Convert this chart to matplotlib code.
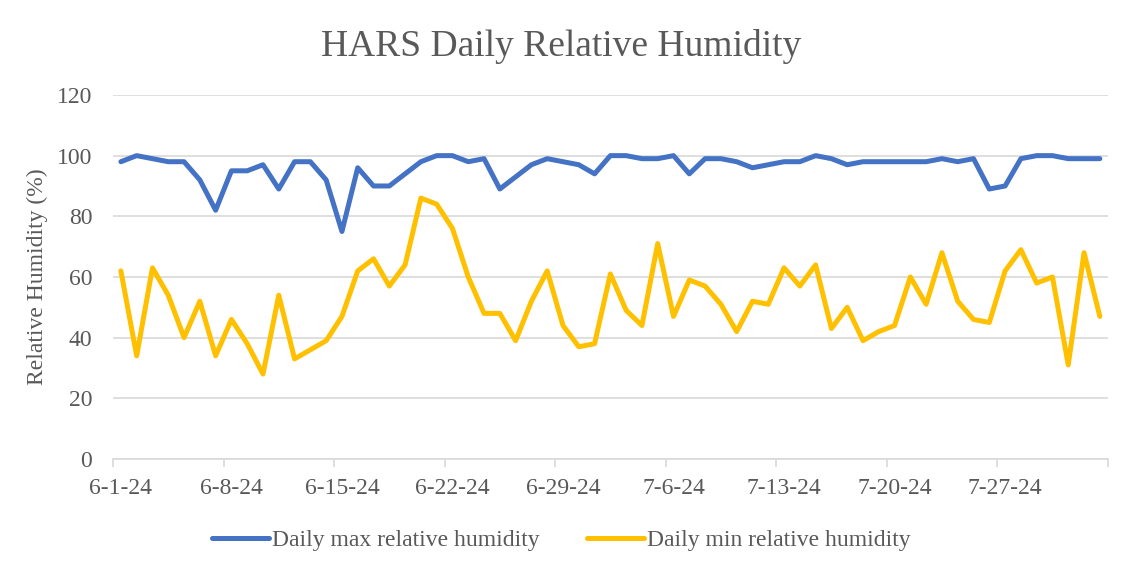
import matplotlib
matplotlib.use("Agg")
from matplotlib import pyplot as plt
from matplotlib.ticker import FixedLocator

# Daily values, 6-1-24 through 8-2-24
max_rh = [98, 100, 99, 98, 98, 92, 82, 95, 95, 97, 89, 98, 98, 92, 75, 96, 90, 90, 94, 98,
          100, 100, 98, 99, 89, 93, 97, 99, 98, 97, 94, 100, 100, 99, 99, 100, 94, 99, 99, 98,
          96, 97, 98, 98, 100, 99, 97, 98, 98, 98, 98, 98, 99, 98, 99, 89, 90, 99, 100, 100,
          99, 99, 99]
min_rh = [62, 34, 63, 54, 40, 52, 34, 46, 38, 28, 54, 33, 36, 39, 47, 62, 66, 57, 64, 86,
          84, 76, 60, 48, 48, 39, 52, 62, 44, 37, 38, 61, 49, 44, 71, 47, 59, 57, 51, 42,
          52, 51, 63, 57, 64, 43, 50, 39, 42, 44, 60, 51, 68, 52, 46, 45, 62, 69, 58, 60,
          31, 68, 47]
tick_labels = ['6-1-24', '6-8-24', '6-15-24', '6-22-24', '6-29-24',
               '7-6-24', '7-13-24', '7-20-24', '7-27-24']
label_step = 7

gray = '#595959'
grid = '#d9d9d9'
serif = ['Liberation Serif', 'DejaVu Serif']

fig = plt.figure(figsize=(11.46, 5.67), dpi=100)
ax = fig.add_axes([0.0986, 0.1905, 0.868, 0.642])

n = len(max_rh)
x = [i + 0.5 for i in range(n)]
ax.plot(x, max_rh, color='#4472C4', lw=3.6, solid_capstyle='round', solid_joinstyle='round',
        label='Daily max relative humidity')
ax.plot(x, min_rh, color='#FFC000', lw=3.6, solid_capstyle='round', solid_joinstyle='round',
        label='Daily min relative humidity')

ax.set_xlim(0, n)
ax.set_ylim(0, 120)
ax.set_yticks(range(0, 121, 20))
ax.yaxis.grid(True, color=grid, lw=1.2)
ax.set_axisbelow(True)

# tick marks on day boundaries, labels centred on the day
ax.xaxis.set_major_locator(FixedLocator(list(range(0, n + 1, label_step))))
ax.xaxis.set_minor_locator(FixedLocator([i * label_step + 0.5 for i in range(len(tick_labels))]))
ax.set_xticklabels([], minor=False)
ax.set_xticklabels(tick_labels, minor=True)
ax.tick_params(axis='x', which='major', length=6, width=1.2, color=grid)
ax.tick_params(axis='x', which='minor', length=0, pad=14)
ax.tick_params(axis='y', length=0, pad=15)

for lab in ax.get_xticklabels(minor=True) + ax.get_yticklabels():
    lab.set_family(serif)
    lab.set_fontsize(17)
    lab.set_color(gray)

for side in ['top', 'right', 'left']:
    ax.spines[side].set_visible(False)
ax.spines['bottom'].set_color(grid)
ax.spines['bottom'].set_linewidth(1.2)

ax.set_ylabel('Relative Humidity (%)', family=serif, fontsize=17, color=gray, labelpad=6)
fig.text(0.49, 0.918, 'HARS Daily Relative Humidity', family=serif, fontsize=27,
         color=gray, ha='center', va='center')

leg = fig.legend(loc='center', bbox_to_anchor=(0.49, 0.047), ncol=2, frameon=False,
                 handlelength=2.4, handletextpad=0.15, columnspacing=2.0,
                 prop={'family': serif, 'size': 17})
for t in leg.get_texts():
    t.set_color(gray)

fig.savefig('out.png', dpi=100)
